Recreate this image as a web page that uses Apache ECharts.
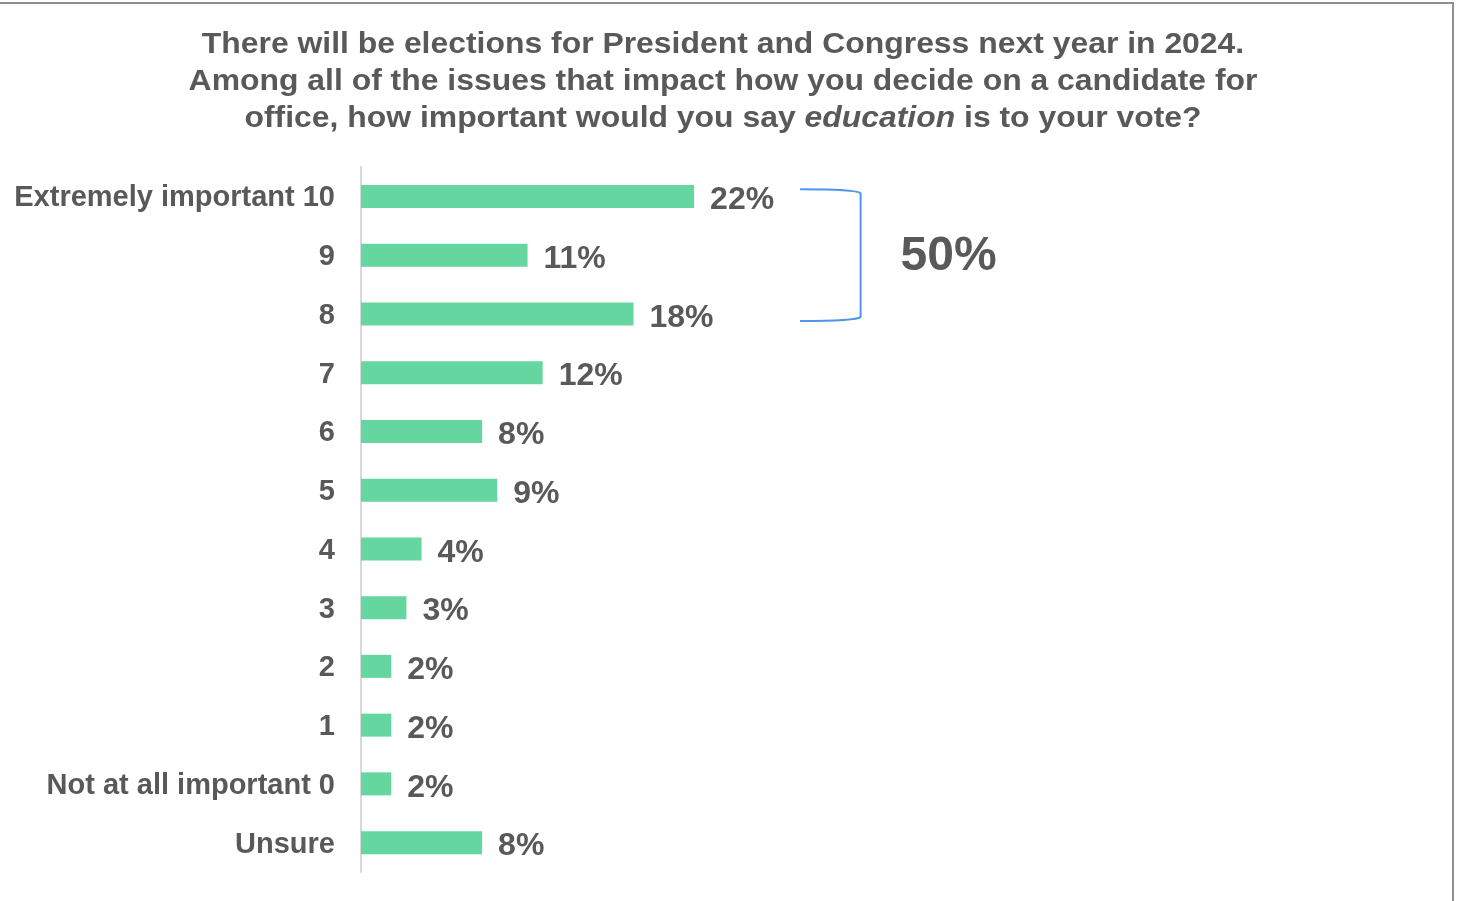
<!DOCTYPE html>
<html>
<head>
<meta charset="utf-8">
<script src="https://cdn.jsdelivr.net/npm/echarts@6/dist/echarts.min.js"></script>
<style>
  html, body { margin: 0; padding: 0; background: #fff; overflow: hidden; }
  #frame { position: absolute; left: -3px; top: 2px; width: 1457px; height: 960px; border: 2px solid #8f8f8f; box-sizing: border-box; }
  #chart { position: absolute; left: 0; top: 0; width: 1460px; height: 901px; }
</style>
</head>
<body>
<div id="frame"></div>
<div id="chart"></div>
<script>
// Survey answers, top to bottom
const categories = [
  'Extremely important 10', '9', '8', '7', '6', '5', '4', '3', '2', '1',
  'Not at all important 0', 'Unsure'
];
const shares = [22, 11, 18, 12, 8, 9, 4, 3, 2, 2, 2, 8];

// Bracket grouping the top three answers and its combined share
const bracketFrom = 0;
const bracketTo = 2;
const bracketTotal = 50;

const titleLines = [
  'There will be elections for President and Congress next year in 2024.',
  'Among all of the issues that impact how you decide on a candidate for',
  'office, how important would you say {i|education} is to your vote?'
];

const textColor = '#595959';
const font = 'Liberation Sans, Arial, sans-serif';

const chart = echarts.init(document.getElementById('chart'));

chart.setOption({
  animation: false,
  graphic: [
    {
      type: 'text',
      x: 723,
      y: 26,
      scaleX: 1.1,
      style: {
        text: titleLines.join('\n'),
        align: 'center',
        verticalAlign: 'top',
        fontFamily: font,
        fontSize: 29,
        fontWeight: 'bold',
        fill: textColor,
        lineHeight: 37,
        rich: {
          i: { fontFamily: font, fontSize: 29, fontWeight: 'bold', fontStyle: 'italic', fill: textColor, lineHeight: 37 }
        }
      }
    }
  ],
  grid: { left: 361, top: 167, width: 757, height: 705 },
  xAxis: {
    type: 'value', min: 0, max: 50,
    show: false
  },
  yAxis: {
    type: 'category',
    data: categories,
    inverse: true,
    axisLine: { show: true, lineStyle: { color: '#d9d9d9', width: 2 } },
    axisTick: { show: false },
    axisLabel: {
      margin: 26,
      formatter: function (v) { return '{a|' + v + '}'; },
      rich: {
        a: {
          fontFamily: font,
          fontSize: 29,
          fontWeight: 'bold',
          color: textColor,
          padding: [4, 0, 0, 0]
        }
      }
    }
  },
  series: [
    {
      type: 'bar',
      data: shares,
      barWidth: 23,
      itemStyle: { color: '#66d6a0' },
      label: {
        show: true,
        position: 'right',
        distance: 16,
        offset: [0, 4],
        formatter: '{c}%',
        fontFamily: font,
        fontSize: 32,
        fontWeight: 'bold',
        color: textColor
      }
    },
    {
      type: 'custom',
      data: [[bracketFrom, bracketTo, bracketTotal]],
      silent: true,
      renderItem: function (params, api) {
        const top = api.coord([0, api.value(0)]);
        const bottom = api.coord([0, api.value(1)]);
        const band = api.size([0, 1])[1];
        const x0 = api.coord([29, 0])[0];
        const x1 = api.coord([33, 0])[0];
        const y0 = top[1] - band * 0.12;
        const y1 = bottom[1] + band * 0.12;
        const r = 4;
        return {
          type: 'group',
          children: [
            {
              type: 'path',
              shape: {
                pathData: 'M' + x0 + ' ' + y0 +
                  ' Q' + (x1 - r) + ' ' + y0 + ' ' + x1 + ' ' + (y0 + r) +
                  ' L' + x1 + ' ' + (y1 - r) +
                  ' Q' + (x1 - r) + ' ' + y1 + ' ' + x0 + ' ' + y1
              },
              style: { stroke: '#4f95ea', lineWidth: 2, fill: null }
            },
            {
              type: 'text',
              style: {
                x: x1 + 40,
                y: (y0 + y1) / 2 + 2,
                text: api.value(2) + '%',
                fontFamily: font,
                fontSize: 48,
                fontWeight: 'bold',
                fill: textColor,
                verticalAlign: 'middle',
                align: 'left'
              }
            }
          ]
        };
      }
    }
  ]
});
</script>
</body>
</html>
